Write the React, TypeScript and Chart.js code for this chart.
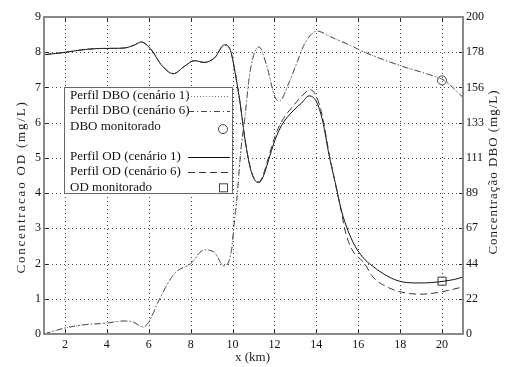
import { useEffect, useRef } from 'react';
import { Chart, registerables } from 'chart.js';

Chart.register(...registerables);

const FONT = '"Liberation Serif", "DejaVu Serif", serif';

// x positions (km) and OD values (mg/L), cenário 1
const xOD1 = [1, 1.8, 2.6, 3.4, 4.3, 4.83, 5.3, 5.64, 6.12, 6.6, 7.18, 7.7, 8.18, 8.66, 9.14, 9.62, 9.9, 10.1, 10.35, 10.6, 10.85, 11.05, 11.25, 11.45, 11.7, 12.02, 12.36, 12.93, 13.3, 13.65, 14.0, 14.3, 14.6, 14.9, 15.2, 15.5, 15.8, 16.2, 16.7, 17.15, 17.6, 18.1, 18.9, 19.5, 20.1, 20.6, 21];
const od1 = [7.93, 7.98, 8.05, 8.1, 8.11, 8.12, 8.2, 8.29, 8.07, 7.64, 7.39, 7.6, 7.76, 7.71, 7.84, 8.21, 8.05, 7.5, 6.6, 5.5, 4.7, 4.38, 4.3, 4.45, 4.9, 5.5, 5.94, 6.36, 6.56, 6.76, 6.6, 6.05, 5.1, 4.3, 3.5, 2.95, 2.55, 2.19, 1.92, 1.73, 1.58, 1.48, 1.45, 1.46, 1.5, 1.55, 1.62];

// OD, cenário 6
const xOD6 = [1, 1.8, 2.6, 3.4, 4.3, 4.83, 5.3, 5.64, 6.12, 6.6, 7.18, 7.7, 8.18, 8.66, 9.14, 9.62, 9.9, 10.1, 10.35, 10.6, 10.85, 11.05, 11.25, 11.45, 11.7, 12.02, 12.36, 12.93, 13.3, 13.7, 14.0, 14.3, 14.6, 14.9, 15.2, 15.4, 15.7, 16.3, 16.7, 17.5, 18.3, 19.0, 19.6, 20.4, 21];
const od6 = [7.93, 7.98, 8.05, 8.1, 8.11, 8.12, 8.2, 8.29, 8.07, 7.64, 7.39, 7.6, 7.76, 7.71, 7.84, 8.21, 8.05, 7.5, 6.6, 5.5, 4.72, 4.4, 4.32, 4.5, 4.98, 5.6, 6.05, 6.5, 6.75, 6.93, 6.75, 6.15, 5.15, 4.3, 3.45, 2.87, 2.4, 2.0, 1.62, 1.3, 1.16, 1.13, 1.16, 1.25, 1.34];

// DBO profiles (mg/L, right axis)
const xDBO = [1, 2, 2.9, 4, 4.8, 5.2, 5.75, 6, 6.5, 6.95, 7.3, 8, 8.65, 9.1, 9.6, 9.95, 10.06, 10.2, 10.4, 10.6, 10.8, 11.0, 11.26, 11.64, 12.02, 12.26, 12.6, 13.07, 13.46, 14.04, 14.66, 15.6, 16.3, 18.1, 19.4, 20.1, 21];
const dbo6 = [0, 3.8, 5.8, 6.9, 8.2, 7.8, 4.4, 7.6, 21.6, 32.9, 39.1, 44.4, 53.1, 51.8, 42.9, 53.1, 67.6, 84.4, 116.2, 138, 162.2, 175.6, 181.1, 168.9, 149.6, 147.1, 155.6, 171.1, 183.6, 191.1, 187.6, 182.2, 177.8, 168.9, 163.6, 160, 149.3];
const dbo1 = [0, 3.8, 5.8, 6.9, 8.2, 7.8, 4.4, 7.6, 21.6, 32.9, 39.1, 44.4, 53.1, 51.8, 42.9, 53.1, 67.6, 84.4, 116.2, 138, 162.2, 175.6, 181.1, 168.9, 149.6, 147.1, 155.6, 171.1, 183.6, 191.1, 187.6, 182.2, 177.8, 168.9, 163.6, 160, 149.3];

// monitored points
const xObsDBO = [20];
const obsDBO = [160];
const xObsOD = [20];
const obsOD = [1.5];

const xTicks = [2, 4, 6, 8, 10, 12, 14, 16, 18, 20];
const yTicks = [0, 1, 2, 3, 4, 5, 6, 7, 8, 9];
const y2Labels = ['0', '22', '44', '67', '89', '111', '133', '156', '178', '200'];

const legendLabels = [
  'Perfil DBO (cenário 1)',
  'Perfil DBO (cenário 6)',
  'DBO monitorado',
  '',
  'Perfil OD (cenário 1)',
  'Perfil OD (cenário 6)',
  'OD monitorado',
];

const xTitle = 'x (km)';
const yTitle = 'Concentracao OD (mg/L)';
const y2Title = 'Concentração DBO (mg/L)';

const pts = (xs: number[], ys: number[]) => xs.map((x, i) => ({ x, y: ys[i] }));

const DOTTED = [1, 2];
const DASHDOT = [6, 3, 1, 3];
const DASHED = [7, 4];

const decor = {
  id: 'decor',
  beforeDatasetsDraw(chart: any) {
    const { ctx, chartArea: a, scales } = chart;
    ctx.save();
    ctx.strokeStyle = '#444';
    ctx.lineWidth = 1;
    ctx.setLineDash([1, 3]);
    xTicks.forEach((v) => {
      const px = Math.round(scales.x.getPixelForValue(v)) + 0.5;
      ctx.beginPath();
      ctx.moveTo(px, a.top);
      ctx.lineTo(px, a.bottom);
      ctx.stroke();
    });
    yTicks.slice(1, -1).forEach((v) => {
      const py = Math.round(scales.y.getPixelForValue(v)) + 0.5;
      ctx.beginPath();
      ctx.moveTo(a.left, py);
      ctx.lineTo(a.right, py);
      ctx.stroke();
    });
    ctx.restore();
  },
  afterDatasetsDraw(chart: any) {
    const { ctx, chartArea: a, scales } = chart;
    ctx.save();
    ctx.strokeStyle = '#222';
    ctx.lineWidth = 1;
    ctx.setLineDash([]);
    const tl = 4;
    xTicks.forEach((v) => {
      const px = Math.round(scales.x.getPixelForValue(v)) + 0.5;
      ctx.beginPath();
      ctx.moveTo(px, a.bottom);
      ctx.lineTo(px, a.bottom - tl);
      ctx.moveTo(px, a.top);
      ctx.lineTo(px, a.top + tl);
      ctx.stroke();
    });
    yTicks.forEach((v) => {
      const py = Math.round(scales.y.getPixelForValue(v)) + 0.5;
      ctx.beginPath();
      ctx.moveTo(a.left, py);
      ctx.lineTo(a.left + tl, py);
      ctx.moveTo(a.right, py);
      ctx.lineTo(a.right - tl, py);
      ctx.stroke();
    });
    ctx.strokeStyle = '#888';
    ctx.lineWidth = 2;
    ctx.strokeRect(a.left, a.top, a.right - a.left, a.bottom - a.top);
    ctx.restore();
  },
  afterDraw(chart: any) {
    const { ctx, chartArea: a } = chart;
    ctx.save();
    ctx.fillStyle = '#222';
    ctx.font = `13px ${FONT}`;
    ctx.textAlign = 'center';
    ctx.textBaseline = 'middle';
    ctx.fillText(xTitle, (a.left + a.right) / 2 - 1, 358);
    ctx.save();
    ctx.letterSpacing = '1.8px';
    ctx.translate(22, 187);
    ctx.rotate(-Math.PI / 2);
    ctx.fillText(yTitle, 0, 0);
    ctx.restore();
    ctx.save();
    ctx.letterSpacing = '1px';
    ctx.translate(494, 172);
    ctx.rotate(-Math.PI / 2);
    ctx.fillText(y2Title, 0, 0);
    ctx.restore();

    // legend
    const lx = 64, ly = 87, lw = 168, lh = 106;
    ctx.fillStyle = '#fff';
    ctx.fillRect(lx, ly, lw, lh);
    ctx.strokeStyle = '#666';
    ctx.lineWidth = 1;
    ctx.strokeRect(lx + 0.5, ly + 0.5, lw, lh);
    const rowY = [95.5, 110.8, 126.1, 141.4, 156.7, 172, 187.3];
    ctx.font = `13px ${FONT}`;
    ctx.textAlign = 'left';
    ctx.textBaseline = 'middle';
    ctx.fillStyle = '#111';
    legendLabels.forEach((t, i) => {
      if (t) ctx.fillText(t, 70, rowY[i]);
    });
    const sample = (y: number, dash: number[], color: string) => {
      ctx.save();
      ctx.strokeStyle = color;
      ctx.lineWidth = 1;
      ctx.setLineDash(dash);
      ctx.beginPath();
      ctx.moveTo(188, Math.round(y) + 0.5);
      ctx.lineTo(230, Math.round(y) + 0.5);
      ctx.stroke();
      ctx.restore();
    };
    sample(rowY[0], DOTTED, '#777');
    sample(rowY[1], DASHDOT, '#444');
    sample(rowY[4], [], '#111');
    sample(rowY[5], DASHED, '#333');
    ctx.strokeStyle = '#444';
    ctx.lineWidth = 1;
    ctx.setLineDash([]);
    ctx.beginPath();
    ctx.arc(223, rowY[2] + 3, 4.5, 0, Math.PI * 2);
    ctx.stroke();
    ctx.strokeRect(219.5, rowY[6] - 3.5, 8, 8);
    ctx.restore();
  },
};

export default function App() {
  const ref = useRef<HTMLCanvasElement | null>(null);
  useEffect(() => {
    document.body.style.margin = '0';
    const canvas = ref.current;
    if (!canvas) return;
    const tickFont = { family: FONT, size: 12 };
    const chart = new Chart(canvas, {
      type: 'scatter',
      data: {
        datasets: [
          {
            label: 'Perfil DBO (cenário 1)',
            data: pts(xDBO, dbo1),
            yAxisID: 'y2',
            showLine: true,
            borderColor: '#777',
            borderWidth: 1,
            borderDash: DOTTED,
            pointRadius: 0,
            cubicInterpolationMode: 'monotone',
          },
          {
            label: 'Perfil DBO (cenário 6)',
            data: pts(xDBO, dbo6),
            yAxisID: 'y2',
            showLine: true,
            borderColor: '#444',
            borderWidth: 1,
            borderDash: DASHDOT,
            pointRadius: 0,
            cubicInterpolationMode: 'monotone',
          },
          {
            label: 'Perfil OD (cenário 6)',
            data: pts(xOD6, od6),
            yAxisID: 'y',
            showLine: true,
            borderColor: '#333',
            borderWidth: 1,
            borderDash: DASHED,
            pointRadius: 0,
            cubicInterpolationMode: 'monotone',
          },
          {
            label: 'Perfil OD (cenário 1)',
            data: pts(xOD1, od1),
            yAxisID: 'y',
            showLine: true,
            borderColor: '#111',
            borderWidth: 1,
            pointRadius: 0,
            cubicInterpolationMode: 'monotone',
          },
          {
            label: 'DBO monitorado',
            data: pts(xObsDBO, obsDBO),
            yAxisID: 'y2',
            showLine: false,
            pointStyle: 'circle',
            pointRadius: 4.5,
            borderColor: '#444',
            backgroundColor: 'rgba(0,0,0,0)',
            borderWidth: 1,
          },
          {
            label: 'OD monitorado',
            data: pts(xObsOD, obsOD),
            yAxisID: 'y',
            showLine: false,
            pointStyle: 'rect',
            pointRadius: 5.7,
            borderColor: '#333',
            backgroundColor: 'rgba(0,0,0,0)',
            borderWidth: 1,
          },
        ],
      },
      options: {
        animation: false,
        responsive: false,
        devicePixelRatio: 1,
        layout: { padding: { top: 17, left: 0, right: 0, bottom: 0 } },
        plugins: { legend: { display: false }, tooltip: { enabled: false } },
        scales: {
          x: {
            type: 'linear',
            min: 1,
            max: 21,
            afterBuildTicks: (s: any) => {
              s.ticks = xTicks.map((v) => ({ value: v }));
            },
            afterFit: (s: any) => {
              s.height = 33;
            },
            grid: { display: false, drawTicks: false },
            border: { display: false },
            ticks: { font: tickFont, color: '#111', padding: 4, maxRotation: 0 },
          },
          y: {
            type: 'linear',
            position: 'left',
            min: 0,
            max: 9,
            afterBuildTicks: (s: any) => {
              s.ticks = yTicks.map((v) => ({ value: v }));
            },
            afterFit: (s: any) => {
              s.width = 44;
            },
            grid: { display: false, drawTicks: false },
            border: { display: false },
            ticks: { font: tickFont, color: '#111', padding: 3 },
          },
          y2: {
            type: 'linear',
            position: 'right',
            min: 0,
            max: 200,
            afterBuildTicks: (s: any) => {
              s.ticks = y2Labels.map((_, i) => ({ value: (i * 200) / 9 }));
            },
            afterFit: (s: any) => {
              s.width = 43;
            },
            grid: { display: false, drawTicks: false },
            border: { display: false },
            ticks: {
              font: tickFont,
              color: '#111',
              padding: 3,
              callback: (_v: any, i: number) => y2Labels[i],
            },
          },
        },
      },
      plugins: [decor],
    } as any);
    return () => chart.destroy();
  }, []);
  return (
    <div style={{ position: 'fixed', left: 0, top: 0, width: 506, height: 367, background: '#fff' }}>
      <canvas ref={ref} width={506} height={367} style={{ display: 'block' }} />
    </div>
  );
}
